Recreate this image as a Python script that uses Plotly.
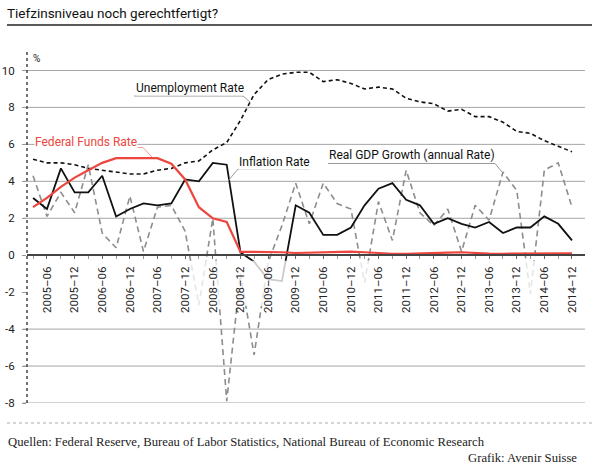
import plotly.graph_objects as go

# ---------------- data (quarterly, 2005-03 ... 2014-12) ----------------
quarters = [f"{y}-{m:02d}-01" for y in range(2005, 2015) for m in (3, 6, 9, 12)]

unemployment = [5.2, 5.0, 5.0, 4.9, 4.7, 4.6, 4.5, 4.4, 4.4, 4.6,
                4.7, 5.0, 5.1, 5.7, 6.1, 7.3, 8.7, 9.5, 9.8, 9.9,
                9.9, 9.4, 9.5, 9.3, 9.0, 9.1, 9.0, 8.5, 8.3, 8.2,
                7.8, 7.9, 7.5, 7.5, 7.2, 6.7, 6.6, 6.2, 5.9, 5.6]

inflation = [3.1, 2.5, 4.7, 3.4, 3.4, 4.3, 2.1, 2.5, 2.8, 2.7,
             2.8, 4.1, 4.0, 5.0, 4.9, 0.15, -0.35, -1.3, -1.4, 2.7,
             2.3, 1.1, 1.1, 1.5, 2.7, 3.6, 3.9, 3.0, 2.7, 1.7,
             2.0, 1.7, 1.5, 1.8, 1.2, 1.5, 1.5, 2.1, 1.7, 0.8]

fed_funds = [2.6, 3.1, 3.7, 4.2, 4.6, 5.0, 5.25, 5.25, 5.25, 5.25,
             4.95, 4.1, 2.6, 2.0, 1.8, 0.18, 0.18, 0.18, 0.16, 0.12,
             0.13, 0.18, 0.19, 0.19, 0.16, 0.10, 0.08, 0.07, 0.10, 0.15,
             0.14, 0.16, 0.12, 0.09, 0.08, 0.09, 0.07, 0.09, 0.09, 0.10]

gdp_growth = [4.3, 2.1, 3.4, 2.3, 4.9, 1.2, 0.4, 3.2, 0.2, 2.6,
              2.7, 1.3, -2.7, 2.0, -7.9, -1.0, -5.4, -0.4, 1.6, 3.9,
              1.7, 3.9, 2.8, 2.5, -1.5, 2.9, 0.8, 4.6, 2.3, 1.6,
              2.5, 0.2, 2.7, 1.9, 4.5, 3.5, -2.1, 4.6, 5.0, 2.6]

x_tick_vals = [f"{y}-{m:02d}-01" for y in range(2005, 2015) for m in (6, 12)]
x_tick_text = [f"{y}\u2013{m:02d}" for y in range(2005, 2015) for m in (6, 12)]
y_tick_vals = [-8, -6, -4, -2, 0, 2, 4, 6, 8, 10]
y_tick_text = ["-8", "-6", "-4", "-2", "0", "2", "4", "6", "8", "10"]
grid_vals = [10, 8, 6, 4, 2, -4, -6, -8]

# ---------------- layout geometry ----------------
W_FIG, H_FIG = 600, 469
L, R, T, B = 27, 585, 52, 403
PW, PH = R - L, B - T
Y_RANGE = [-8, 11]
X_RANGE = ["2005-01-20", "2015-02-25"]


def px_x(px):
    return (px - L) / PW


def px_y(py):
    return (B - py) / PH


NARROW = "Roboto, Liberation Sans Narrow, sans-serif"
SERIF = "Liberation Serif, DejaVu Serif, serif"
RED = "#ec463e"

fig = go.Figure()

fig.add_trace(go.Scatter(x=quarters, y=gdp_growth, mode="lines",
                         line=dict(color="#8d8d8d", width=1.6, dash="6px,4px"),
                         hoverinfo="skip", showlegend=False))
fig.add_trace(go.Scatter(x=quarters, y=unemployment, mode="lines",
                         line=dict(color="#111111", width=1.6, dash="4px,3px"),
                         hoverinfo="skip", showlegend=False))
fig.add_trace(go.Scatter(x=quarters, y=inflation, mode="lines",
                         line=dict(color="#111111", width=1.8),
                         hoverinfo="skip", showlegend=False))
fig.add_trace(go.Scatter(x=quarters, y=fed_funds, mode="lines",
                         line=dict(color=RED, width=2.2),
                         hoverinfo="skip", showlegend=False))
# semi-transparent white band behind the date labels (fades lines there)
fig.add_trace(go.Scatter(x=[X_RANGE[0], X_RANGE[1], X_RANGE[1], X_RANGE[0], X_RANGE[0]],
                         y=[-0.3, -0.3, -2.75, -2.75, -0.3], mode="lines",
                         fill="toself", fillcolor="rgba(255,255,255,0.78)",
                         line=dict(width=0), hoverinfo="skip", showlegend=False))

shapes = []
for v in grid_vals:
    shapes.append(dict(type="line", xref="paper", yref="y", x0=px_x(23), x1=1, y0=v, y1=v,
                       line=dict(color="#a5a5a5", width=1), layer="below"))
# dotted y axis
shapes.append(dict(type="line", xref="paper", yref="paper", x0=0, x1=0, y0=0, y1=1,
                   line=dict(color="#444444", width=1.5, dash="dot"), layer="above"))
# title rule
shapes.append(dict(type="line", xref="paper", yref="paper", x0=px_x(7), x1=px_x(592),
                   y0=px_y(25), y1=px_y(25), line=dict(color="#222222", width=1.5)))
# footer dotted rule
shapes.append(dict(type="line", xref="paper", yref="paper", x0=px_x(7), x1=px_x(592),
                   y0=px_y(423), y1=px_y(423), line=dict(color="#aaaaaa", width=1, dash="dot")))


def leader(points, color):
    path = "M " + " L ".join(f"{px_x(a)},{px_y(b)}" for a, b in points)
    return dict(type="path", xref="paper", yref="paper", path=path,
                line=dict(color=color, width=1))


shapes.append(leader([(134, 96), (243, 96), (250, 102)], "#9a9a9a"))
shapes.append(leader([(35, 147.5), (143, 147.5), (152, 157)], "#f29a94"))
shapes.append(leader([(310, 169), (238, 169), (228, 181)], "#9a9a9a"))
shapes.append(leader([(328, 163.5), (495, 163.5), (502, 172)], "#9a9a9a"))

annotations = [
    dict(text="%", x=px_x(31), y=px_y(58), xanchor="left", yanchor="middle",
         font=dict(family=NARROW, size=10, color="#222")),
    dict(text="Unemployment Rate", x=px_x(135), y=px_y(88), xanchor="left", yanchor="middle",
         font=dict(family=NARROW, size=12, color="#111"), bgcolor="white", borderpad=0),
    dict(text="Federal Funds Rate", x=px_x(34), y=px_y(141.5), xanchor="left", yanchor="middle",
         font=dict(family=NARROW, size=12, color=RED), bgcolor="white", borderpad=0),
    dict(text="Inflation Rate", x=px_x(238), y=px_y(161.5), xanchor="left", yanchor="middle",
         font=dict(family=NARROW, size=12, color="#111"), bgcolor="white", borderpad=0),
    dict(text="Real GDP Growth (annual Rate)", x=px_x(328), y=px_y(155), xanchor="left",
         yanchor="middle", font=dict(family=NARROW, size=12, color="#111"),
         bgcolor="white", borderpad=0),
    dict(text="Quellen: Federal Reserve, Bureau of Labor Statistics, National Bureau of Economic Research",
         x=px_x(6), y=px_y(442), xanchor="left", yanchor="middle",
         font=dict(family=SERIF, size=12.7, color="#222")),
    dict(text="Grafik: Avenir Suisse", x=px_x(579), y=px_y(458), xanchor="right", yanchor="middle",
         font=dict(family=SERIF, size=12.7, color="#222")),
]
for a in annotations:
    a.update(xref="paper", yref="paper", showarrow=False)

fig.update_layout(
    width=W_FIG, height=H_FIG,
    margin=dict(l=L, r=W_FIG - R, t=T, b=H_FIG - B, pad=0, autoexpand=False),
    paper_bgcolor="white", plot_bgcolor="white",
    title=dict(text="Tiefzinsniveau noch gerechtfertigt?", xref="container", yref="container",
               x=7 / W_FIG, y=1 - 13 / H_FIG, xanchor="left", yanchor="middle",
               font=dict(family=NARROW, size=13.5, color="#111")),
    xaxis=dict(type="date", range=X_RANGE, anchor="free", automargin=False,
               position=(0 - Y_RANGE[0]) / (Y_RANGE[1] - Y_RANGE[0]),
               showgrid=False, zeroline=False, showline=True, linecolor="#444", linewidth=1.5,
               tickmode="array", tickvals=x_tick_vals, ticktext=x_tick_text,
               ticks="outside", ticklen=3, tickcolor="#666", tickwidth=1,
               minor=dict(ticks="outside", dtick="M3", tick0="2005-03-01", ticklen=3,
                          tickcolor="#999", showgrid=False),
               tickangle=-90, ticklabelstandoff=3,
               tickfont=dict(family=NARROW, size=11.5, color="#222")),
    yaxis=dict(range=Y_RANGE, showgrid=False, zeroline=False, showline=False, automargin=False,
               tickmode="array", tickvals=y_tick_vals, ticktext=y_tick_text,
               ticks="outside", ticklen=4, tickcolor="#999",
               ticklabelstandoff=5,
               tickfont=dict(family=NARROW, size=11.5, color="#222")),
    shapes=shapes, annotations=annotations, showlegend=False,
)

fig.write_html("out.html")
